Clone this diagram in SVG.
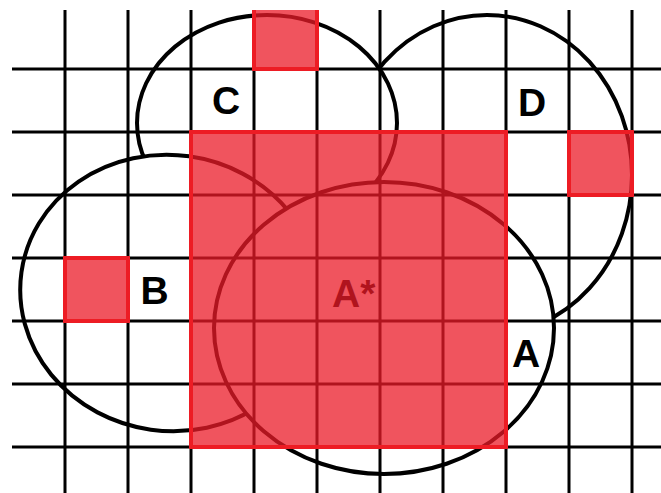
<svg xmlns="http://www.w3.org/2000/svg" width="661" height="493" viewBox="0 0 661 493">
<style>
.region{fill:#fff;stroke:#000;stroke-width:4}
#grid line{stroke:#000;stroke-width:3}
.lbl{font-family:"Liberation Sans",Arial,sans-serif;font-weight:bold;font-size:39px;fill:#000}
.sq{fill:#eb1b28;fill-opacity:0.75;stroke:#ed1c24;stroke-width:4}
</style>
<defs>
<clipPath id="frame"><rect x="12" y="10" width="649" height="483"/></clipPath>
</defs>
<rect width="661" height="493" fill="#fff"/>
<g clip-path="url(#frame)">
<g id="D">
<ellipse class="region" cx="487" cy="175" rx="145" ry="160"/>
<text class="lbl" x="532" y="116" text-anchor="middle">D</text>
</g>
<g id="C">
<ellipse class="region" cx="267" cy="123" rx="130" ry="108"/>
<text class="lbl" x="226" y="114" text-anchor="middle">C</text>
</g>
<g id="B">
<ellipse class="region" cx="170" cy="293" rx="150" ry="138" transform="rotate(8 170 293)"/>
<text class="lbl" x="154.5" y="304" text-anchor="middle">B</text>
</g>
<g id="A">
<ellipse class="region" cx="384" cy="328" rx="170" ry="146"/>
<text class="lbl" x="526" y="367" text-anchor="middle">A</text>
</g>
<g id="grid">
<line x1="65" y1="10" x2="65" y2="493"/>
<line x1="128" y1="10" x2="128" y2="493"/>
<line x1="191" y1="10" x2="191" y2="493"/>
<line x1="254" y1="10" x2="254" y2="493"/>
<line x1="317" y1="10" x2="317" y2="493"/>
<line x1="380" y1="10" x2="380" y2="493"/>
<line x1="443" y1="10" x2="443" y2="493"/>
<line x1="506" y1="10" x2="506" y2="493"/>
<line x1="569" y1="10" x2="569" y2="493"/>
<line x1="632" y1="10" x2="632" y2="493"/>
<line x1="12" y1="69" x2="661" y2="69"/>
<line x1="12" y1="132" x2="661" y2="132"/>
<line x1="12" y1="195" x2="661" y2="195"/>
<line x1="12" y1="258" x2="661" y2="258"/>
<line x1="12" y1="321" x2="661" y2="321"/>
<line x1="12" y1="384" x2="661" y2="384"/>
<line x1="12" y1="447" x2="661" y2="447"/>
</g>
<g id="A-star">
<text class="lbl" x="332" y="307">A*</text>
<rect class="sq" x="191" y="132" width="315" height="315"/>
</g>
<g id="cell-C"><rect class="sq" x="254" y="6" width="63" height="63"/></g>
<g id="cell-D"><rect class="sq" x="569" y="132" width="63" height="63"/></g>
<g id="cell-B"><rect class="sq" x="65" y="258" width="63" height="63"/></g>
</g>
</svg>
